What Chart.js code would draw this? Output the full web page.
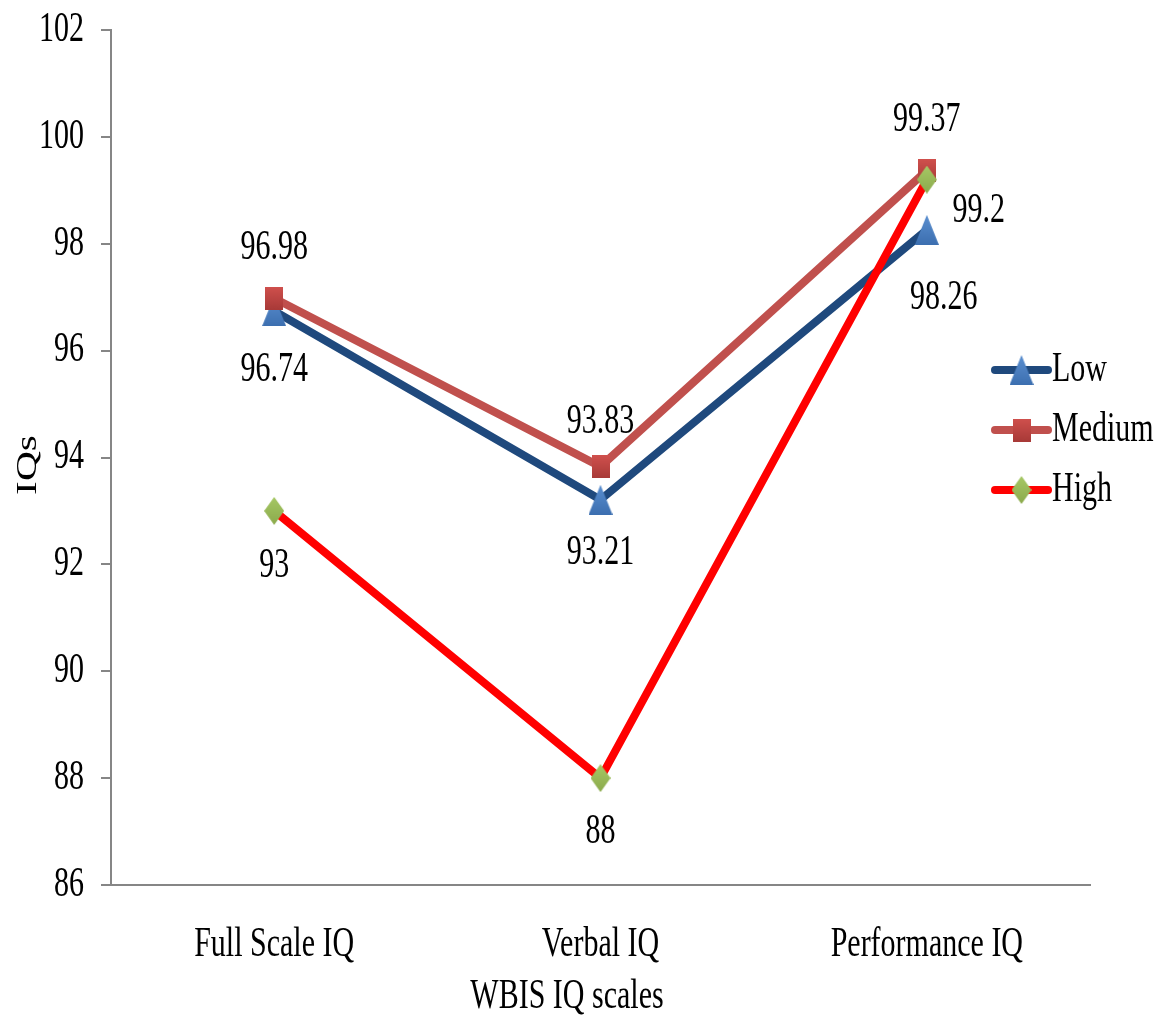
<!DOCTYPE html>
<html>
<head>
<meta charset="utf-8">
<script src="https://cdn.jsdelivr.net/npm/chart.js@4/dist/chart.umd.min.js"></script>
<style>
html,body{margin:0;padding:0;background:#fff;}
#wrap{width:1170px;height:1017px;position:relative;}
</style>
</head>
<body>
<div id="wrap"><canvas id="c" width="1170" height="1017"></canvas></div>
<script>
const categories = ["Full Scale IQ", "Verbal IQ", "Performance IQ"];
const seriesNames = ["Low", "Medium", "High"];
const lowValues = [96.74, 93.21, 98.26];
const mediumValues = [96.98, 93.83, 99.37];
const highValues = [93, 88, 99.2];
const yTicks = [86, 88, 90, 92, 94, 96, 98, 100, 102];
const xTitle = "WBIS IQ scales";
const yTitle = "IQs";

const FONT = "'Liberation Serif', 'Times New Roman', serif";
const FS = 30;
const SY = 1.38; // vertical stretch of the condensed-looking text

// label offsets (style) per dataset per point, relative to point pixel
const labelOffsets = [
  [[0, 59], [0, 53], [17, 68]],
  [[0, -50], [0, -44], [0, -50]],
  [[0, 55], [0, 54], [52, 32]]
];

function makeMarker(kind, w, h, c1, c2) {
  const cv = document.createElement('canvas');
  cv.width = w; cv.height = h;
  const g = cv.getContext('2d');
  const grad = g.createLinearGradient(0, 0, 0, h);
  grad.addColorStop(0, c1); grad.addColorStop(1, c2);
  g.fillStyle = grad;
  g.beginPath();
  if (kind === 'tri') { g.moveTo(w / 2, 0); g.lineTo(w, h); g.lineTo(0, h); }
  else if (kind === 'sq') { g.rect(0, 0, w, h); }
  else { g.moveTo(w / 2, 0); g.lineTo(w, h / 2); g.lineTo(w / 2, h); g.lineTo(0, h / 2); }
  g.closePath();
  g.fill();
  return cv;
}
const markers = [
  makeMarker('tri', 24, 30, '#5B8FD0', '#3C6FB0'),
  makeMarker('sq', 18, 23, '#D0504D', '#A83A38'),
  makeMarker('dia', 20, 28, '#A6C865', '#8BAA4C')
];

const lineColors = ['#1F497D', '#C0504D', '#FF0000'];
const orders = [3, 2, 1];
const seriesValues = [lowValues, mediumValues, highValues];

const datasets = seriesNames.map((name, i) => ({
  label: name,
  data: seriesValues[i],
  borderColor: lineColors[i],
  backgroundColor: lineColors[i],
  pointStyle: markers[i],
  pointRadius: 12,
  pointHoverRadius: 12,
  borderWidth: 8,
  tension: 0,
  order: orders[i],
  fill: false
}));

function sText(ctx, txt, x, y, align) {
  ctx.save();
  ctx.translate(x, y);
  ctx.scale(1, SY);
  ctx.textAlign = align || 'center';
  ctx.textBaseline = 'middle';
  ctx.fillText(txt, 0, 0);
  ctx.restore();
}

const labelPlugin = {
  id: 'labels',
  afterDatasetsDraw(chart) {
    const ctx = chart.ctx;
    ctx.save();
    ctx.font = FS + 'px ' + FONT;
    ctx.fillStyle = '#000';
    chart.data.datasets.forEach((ds, di) => {
      const meta = chart.getDatasetMeta(di);
      meta.data.forEach((pt, pi) => {
        const off = labelOffsets[di][pi];
        sText(ctx, String(ds.data[pi]), pt.x + off[0], pt.y + off[1]);
      });
    });
    ctx.restore();
  }
};

const textPlugin = {
  id: 'texts',
  afterDraw(chart) {
    const ctx = chart.ctx;
    ctx.save();
    ctx.font = FS + 'px ' + FONT;
    ctx.fillStyle = '#000';
    const ys = chart.scales.y;
    yTicks.forEach(v => sText(ctx, String(v), 84, ys.getPixelForValue(v), 'right'));
    const xs = chart.scales.x;
    categories.forEach((c, i) => sText(ctx, c, xs.getPixelForValue(i), 945));
    const x0 = 995, x1 = 1048, ly = [370, 430, 490];
    chart.data.datasets.forEach((ds, i) => {
      const y = ly[i];
      ctx.strokeStyle = ds.borderColor;
      ctx.lineWidth = 8;
      ctx.lineCap = 'round';
      ctx.beginPath();
      ctx.moveTo(x0, y);
      ctx.lineTo(x1, y);
      ctx.stroke();
      const m = markers[i];
      ctx.drawImage(m, (x0 + x1) / 2 - m.width / 2, y - m.height / 2);
      ctx.fillStyle = '#000';
      sText(ctx, ds.label, 1052, y, 'left');
    });
    sText(ctx, xTitle, 567, 997);
    ctx.translate(28, 465);
    ctx.scale(1, SY);
    ctx.rotate(-Math.PI / 2);
    ctx.textAlign = 'center';
    ctx.textBaseline = 'middle';
    ctx.fillText(yTitle, 0, 0);
    ctx.restore();
  }
};

new Chart(document.getElementById('c'), {
  type: 'line',
  data: { labels: categories, datasets },
  options: {
    responsive: false,
    animation: false,
    events: [],
    layout: { padding: { left: 0, right: 80, top: 30, bottom: 0 } },
    plugins: { legend: { display: false }, tooltip: { enabled: false } },
    scales: {
      x: {
        offset: true,
        grid: { display: false, drawTicks: false },
        border: { color: '#868686', width: 2 },
        ticks: { display: false },
        afterFit(s) { s.height = 132; }
      },
      y: {
        min: 86, max: 102,
        afterBuildTicks(s) { s.ticks = yTicks.map(v => ({ value: v })); },
        grid: { drawOnChartArea: false, drawTicks: true, tickLength: 10, color: '#868686', lineWidth: 2 },
        border: { color: '#868686', width: 2 },
        ticks: { display: false },
        afterFit(s) { s.width = 111; }
      }
    }
  },
  plugins: [labelPlugin, textPlugin]
});
</script>
</body>
</html>
